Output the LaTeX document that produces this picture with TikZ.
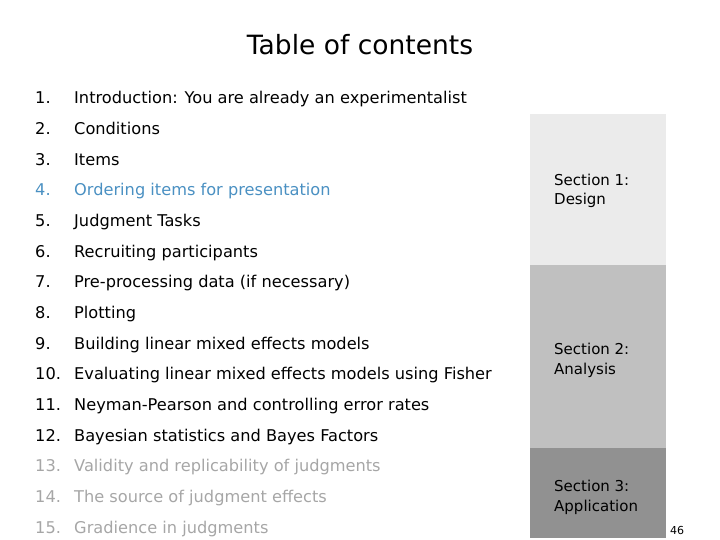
\documentclass[tikz,border=0pt]{standalone}
\usepackage{fontspec}
\setmainfont{DejaVu Sans}
\usetikzlibrary{positioning}
\definecolor{hiblue}{HTML}{4A90C2}
\definecolor{dimgray}{HTML}{A6A6A6}
\definecolor{secone}{HTML}{EBEBEB}
\definecolor{sectwo}{HTML}{C0C0C0}
\definecolor{secthree}{HTML}{919191}
\tikzset{
  item/.style={anchor=base west, inner sep=0pt, font=\fontsize{16.2}{18}\selectfont},
  seclabel/.style={anchor=base west, inner sep=0pt, align=left, font=\fontsize{15}{20}\selectfont}
}
\begin{document}
\begin{tikzpicture}[x=1pt,y=-1pt]
	\useasboundingbox (0,0) rectangle (720,540);
	\node (title) at (360,45) {\fontsize{26.5}{30}\selectfont Table of contents};
	% sections
	\fill[secone] (530,114) rectangle (666,265);
	\fill[sectwo] (530,265) rectangle (666,448);
	\fill[secthree] (530,448) rectangle (666,538);
	\node[seclabel] (s1) at (554,205) {Section 1:\\Design};
	\node[seclabel] (s2) at (554,374) {Section 2:\\Analysis};
	\node[seclabel] (s3) at (554,511) {Section 3:\\Application};
	% items
	\foreach \n/\t/\c [count=\i from 0] in {
		1./Introduction: You are already an experimentalist/black,
		2./Conditions/black,
		3./Items/black,
		4./Ordering items for presentation/hiblue,
		5./Judgment Tasks/black,
		6./Recruiting participants/black,
		7./Pre-processing data (if necessary)/black,
		8./Plotting/black,
		9./Building linear mixed effects models/black,
		10./Evaluating linear mixed effects models using Fisher/black,
		11./Neyman-Pearson and controlling error rates/black,
		12./Bayesian statistics and Bayes Factors/black,
		13./Validity and replicability of judgments/dimgray,
		14./The source of judgment effects/dimgray,
		15./Gradience in judgments/dimgray}
	{
		\node[item, text=\c] (num\i) at (35,{104+30.65*\i}) {\n};
		\node[item, text=\c] (txt\i) at (74,{104+30.65*\i}) {\t};
	}
	\node (page) at (677,530) {\fontsize{11}{12}\selectfont 46};
\end{tikzpicture}
\end{document}
